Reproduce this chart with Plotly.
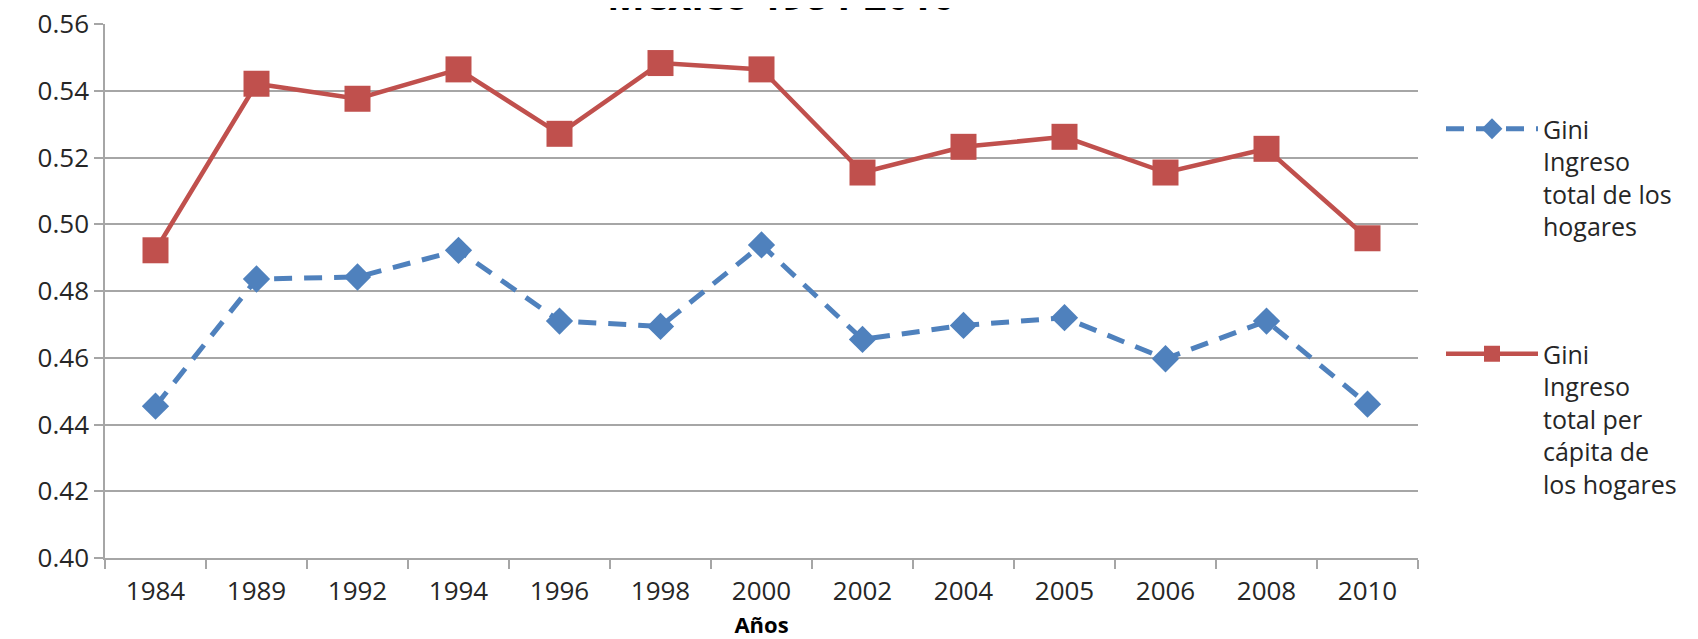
import plotly.graph_objects as go

years = ["1984", "1989", "1992", "1994", "1996", "1998", "2000",
         "2002", "2004", "2005", "2006", "2008", "2010"]
gini_total = [0.4455, 0.4836, 0.4842, 0.4922, 0.4710, 0.4694, 0.4938,
              0.4655, 0.4697, 0.4720, 0.4597, 0.4710, 0.4461]
gini_percap = [0.4922, 0.5421, 0.5376, 0.5464, 0.5271, 0.5483, 0.5464,
               0.5155, 0.5232, 0.5262, 0.5155, 0.5226, 0.4958]
y_ticks = [0.40, 0.42, 0.44, 0.46, 0.48, 0.50, 0.52, 0.54, 0.56]

name_total = "Gini<br>Ingreso<br>total de los<br>hogares"
name_percap = "Gini<br>Ingreso<br>total per<br>cápita de<br>los hogares"
title_text = "México 1984-2010"
xtitle = "Años"

FONT = "Open Sans"
BLUE = "#4F81BD"
RED = "#C0504D"
GRID = "#A6A6A6"
TXT = "#262626"

# page body has an 8px margin; figure is sized to fit the 1698x639 window
W, H = 1690, 631
L, T, R_EDGE, B_EDGE = 97, 16, 1410, 550
PW, PH = R_EDGE - L, B_EDGE - T

fig = go.Figure()
fig.add_trace(go.Scatter(
    x=years, y=gini_total, name=name_total, mode="lines+markers",
    line=dict(color=BLUE, width=5, dash="18px,12px"),
    marker=dict(symbol="diamond", size=21, color=BLUE),
    legend="legend",
))
fig.add_trace(go.Scatter(
    x=years, y=gini_percap, name=name_percap, mode="lines+markers",
    line=dict(color=RED, width=4.5),
    marker=dict(symbol="square", size=26, color=RED),
    legend="legend2",
))

fig.update_layout(
    width=W, height=H,
    margin=dict(l=L, r=W - R_EDGE, t=T, b=H - B_EDGE, autoexpand=False),
    paper_bgcolor="white", plot_bgcolor="white",
    font=dict(family=FONT, size=26, color=TXT),
    showlegend=True,
    legend=dict(x=(1433 - L) / PW, y=1 - (98 - T) / PH, xanchor="left", yanchor="top",
                valign="top", font=dict(size=25, color=TXT),
                bgcolor="rgba(0,0,0,0)", itemwidth=92),
    legend2=dict(x=(1433 - L) / PW, y=1 - (323 - T) / PH, xanchor="left", yanchor="top",
                 valign="top", font=dict(size=25, color=TXT),
                 bgcolor="rgba(0,0,0,0)", itemwidth=92),
    annotations=[dict(
        text="<b>" + title_text + "</b>", x=0.515, y=1, xref="paper", yref="paper",
        xanchor="center", yanchor="bottom", yshift=0, showarrow=False,
        font=dict(family=FONT, size=40, color="#000000"),
    )],
)

fig.update_xaxes(
    type="category", range=[-0.5, 12.5], automargin=False,
    showgrid=False, showline=True, linecolor=GRID, linewidth=1.5,
    ticks="outside", tickson="boundaries", ticklen=9, tickcolor=GRID, tickwidth=1.5,
    ticklabelstandoff=9, ticklabeloverflow="allow",
    title=dict(text="<b>" + xtitle + "</b>", font=dict(size=22, color="#000000"), standoff=13),
    tickfont=dict(size=26, color=TXT),
)
fig.update_yaxes(
    range=[0.40, 0.56], tickvals=y_ticks, tickformat=".2f", automargin=False,
    ticklabeloverflow="allow",
    showgrid=True, gridcolor=GRID, gridwidth=1.5, zeroline=False,
    showline=True, linecolor=GRID, linewidth=1.5,
    ticks="outside", ticklen=9, tickcolor=GRID, tickwidth=1.5,
    tickfont=dict(size=26, color=TXT),
)

fig.write_html("out.html")
